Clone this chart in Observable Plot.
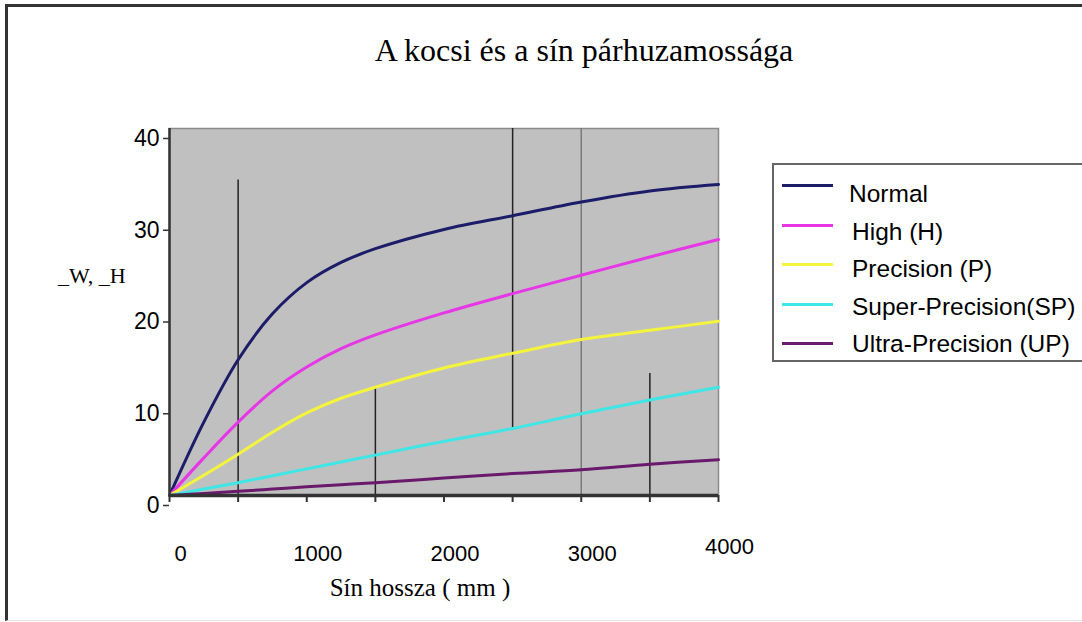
<!DOCTYPE html>
<html><head><meta charset="utf-8">
<script src="https://cdn.jsdelivr.net/npm/d3@7"></script>
<script src="https://cdn.jsdelivr.net/npm/@observablehq/plot@0.6"></script>
<style>
body{margin:0;background:#fff;}
#wrap{position:relative;width:1082px;height:622px;overflow:hidden;background:#fff;}
#frame{position:absolute;left:5px;top:4px;width:1200px;height:613px;border-top:3px solid #333;border-left:3px solid #333;border-bottom:1px solid #e0e0e0;}
#title{position:absolute;left:284px;width:600px;top:32px;text-align:center;font:32px "Liberation Serif",serif;color:#000;white-space:nowrap;}
#ylab{position:absolute;left:58px;top:263px;font:22px "Liberation Serif",serif;white-space:nowrap;}
#xlab{position:absolute;left:270px;width:300px;top:574px;text-align:center;font:25px "Liberation Serif",serif;white-space:nowrap;}
#plot{position:absolute;left:0;top:0;}
#legend{position:absolute;left:772px;top:163px;width:340px;height:195px;border:2px solid #666;background:#fff;}
.sw{position:absolute;left:8px;width:51px;height:3px;}
.lt{position:absolute;left:77px;font:24.5px "Liberation Sans",Arial,sans-serif;white-space:nowrap;color:#000;}
</style>
</head><body>
<div id="wrap">
  <div id="frame"></div>
  <div id="title">A kocsi és a sín párhuzamossága</div>
  <div id="plot"></div>
  <div id="ylab">_W, _H</div>
  <div id="xlab">Sín hossza ( mm )</div>
  <div id="legend"></div>
</div>
<script>
const lengths = [0, 250, 500, 750, 1000, 1250, 1500, 2000, 2500, 3000, 3500, 4000];
const normal = [0, 8.0, 14.8, 19.8, 23.2, 25.4, 26.9, 29.0, 30.5, 32.0, 33.2, 33.9];
const high = [0, 4.1, 8.0, 11.4, 14.0, 16.0, 17.5, 19.9, 22.0, 24.0, 26.0, 27.9];
const precision = [0, 2.2, 4.5, 6.9, 9.0, 10.6, 11.8, 13.9, 15.5, 17.0, 18.0, 19.0];
const superPrecision = [0, 0.7, 1.4, 2.15, 2.9, 3.65, 4.4, 5.9, 7.3, 8.9, 10.4, 11.8];
const ultraPrecision = [0, 0.22, 0.45, 0.7, 0.95, 1.18, 1.4, 1.9, 2.4, 2.8, 3.4, 3.9];

const seriesNames = ["Normal", "High (H)", "Precision (P)", "Super-Precision(SP)", "Ultra-Precision (UP)"];
const seriesColors = ["#1c1c68", "#e636e6", "#f4f43c", "#3ee6e6", "#6a1a6a"];
const seriesValues = [normal, high, precision, superPrecision, ultraPrecision];

const yTicks = [0, 10, 20, 30, 40];
const xTickLabels = [0, 1000, 2000, 3000];
const xLastTickLabel = [4000];
const xMinorTicks = [0, 500, 1000, 1500, 2000, 2500, 3000, 3500, 4000];

// stray vertical strokes in the original picture
const markerX = [500, 1500, 2500, 3000, 3500];
const markerLow = [0, 0, 7.1, 0, 0];
const markerHigh = [34.4, 11.7, 40, 40, 13.3];
const markerColor = ["#222", "#222", "#222", "#7a7a7a", "#222"];

const rows = [];
seriesNames.forEach((s, i) => lengths.forEach((x, j) => rows.push({series: s, x, y: seriesValues[i][j]})));
const markers = markerX.map((x, i) => ({x, y1: markerLow[i], y2: markerHigh[i], c: markerColor[i]}));

const chart = Plot.plot({
  width: 1082, height: 622,
  marginLeft: 169, marginRight: 364, marginTop: 128, marginBottom: 127,
  x: {domain: [0, 4000]},
  y: {domain: [0, 40]},
  color: {domain: seriesNames, range: seriesColors},
  style: {background: "transparent", fontFamily: "Liberation Sans, Arial, sans-serif", color: "#000"},
  marks: [
    Plot.frame({fill: "#c0c0c0", stroke: "#8a8a8a", strokeWidth: 1.5}),
    Plot.ruleX(markers, {x: "x", y1: "y1", y2: "y2", stroke: d => d.c, strokeWidth: 1.5}),
    Plot.line(rows, {x: "x", y: "y", z: "series", stroke: "series", curve: "catmull-rom", strokeWidth: 3}),
    Plot.ruleX([0], {stroke: "#333", strokeWidth: 2.5}),
    Plot.ruleY([0], {stroke: "#333", strokeWidth: 3.5}),
    Plot.axisY(yTicks, {tickSize: 6, tickPadding: 4, dy: 10, fontSize: 23, stroke: "#333", strokeWidth: 1.5, label: null}),
    Plot.axisX(xMinorTicks, {tickSize: 7, tickFormat: () => "", stroke: "#333", strokeWidth: 2, label: null}),
    Plot.axisX(xTickLabels, {tickSize: 0, tickPadding: 50, dx: 11, fontSize: 22, tickFormat: d => String(d), label: null}),
    Plot.axisX(xLastTickLabel, {tickSize: 0, tickPadding: 43, dx: 11, fontSize: 22, tickFormat: d => String(d), label: null})
  ]
});
document.getElementById("plot").appendChild(chart);

const legend = document.getElementById("legend");
seriesNames.forEach((s, i) => {
  const sw = document.createElement("div");
  sw.className = "sw";
  sw.style.top = (19 + i * 39.5) + "px";
  sw.style.background = seriesColors[i];
  legend.appendChild(sw);
  const t = document.createElement("div");
  t.className = "lt";
  t.style.top = (15 + i * 37.5) + "px";
  t.style.left = (i === 0 ? 75 : 78) + "px";
  t.textContent = s;
  legend.appendChild(t);
});
</script>
</body></html>
